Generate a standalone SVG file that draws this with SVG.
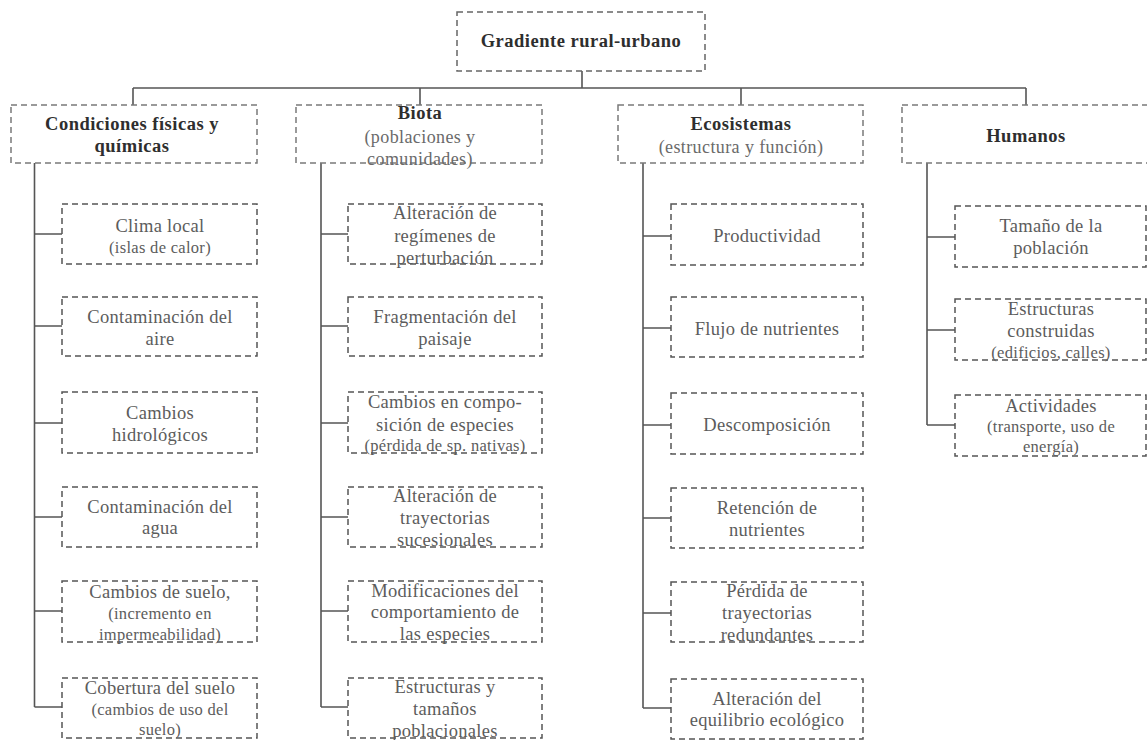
<svg xmlns="http://www.w3.org/2000/svg" width="1147" height="740" viewBox="0 0 1147 740">
<style>
  .bx { fill: none; stroke-width: 1.5; stroke-dasharray: 6 4; }
  .b0 { stroke: #666; }
  .b1 { stroke: #7a7a7a; }
  .b2 { stroke: #555; }
  .cn { fill: none; stroke: #555; stroke-width: 1.6; }
  text { font-family: "Liberation Serif", "Times New Roman", serif; text-anchor: middle; }
  .h { font-size: 18.5px; font-weight: bold; fill: #2e2e2e; letter-spacing: 0.5px; }
  .hs { font-size: 18px; fill: #6a6a6a; letter-spacing: 0.4px; }
  .t { font-size: 18.5px; fill: #5c5c5c; letter-spacing: 0.3px; }
  .p { font-size: 16.5px; fill: #5c5c5c; letter-spacing: 0.3px; }
</style>
<rect width="1147" height="740" fill="#fff"/>

<g id="connectors">
  <path class="cn" d="M582 71 V88 M133 88 H1026 M133 88 V105 M420 88 V105 M741 88 V105 M1026 88 V105"/>
  <path class="cn" d="M34.5 163 V707 M34.5 234 H62 M34.5 326 H62 M34.5 423 H62 M34.5 517 H62 M34.5 611 H62 M34.5 707 H62"/>
  <path class="cn" d="M321 163 V707 M321 234 H348 M321 326 H348 M321 423 H348 M321 517 H348 M321 611 H348 M321 707 H348"/>
  <path class="cn" d="M643 163 V708 M643 236 H671 M643 328 H671 M643 425 H671 M643 518 H671 M643 613 H671 M643 708 H671"/>
  <path class="cn" d="M927 163 V425 M927 237 H955 M927 330 H955 M927 425 H955"/>
</g>

<g id="n-root">
  <rect class="bx b0" x="457" y="12" width="248" height="59"/>
  <text class="h" x="581" y="47">Gradiente rural-urbano</text>
</g>

<g id="n-fisicas">
  <rect class="bx b1" x="11" y="105" width="246" height="58"/>
  <text class="h" x="132" y="130">Condiciones físicas y</text>
  <text class="h" x="132" y="152">químicas</text>
</g>
<g id="n-biota">
  <rect class="bx b1" x="296" y="105" width="246" height="58"/>
  <text class="h" x="420" y="119">Biota</text>
  <text class="hs" x="420" y="143">(poblaciones y</text>
  <text class="hs" x="420" y="165">comunidades)</text>
</g>
<g id="n-ecosistemas">
  <rect class="bx b1" x="618" y="105" width="245" height="58"/>
  <text class="h" x="741" y="130">Ecosistemas</text>
  <text class="hs" x="741" y="153">(estructura y función)</text>
</g>
<g id="n-humanos">
  <rect class="bx b1" x="902" y="105" width="246" height="58"/>
  <text class="h" x="1026" y="142">Humanos</text>
</g>

<!-- column 1 -->
<g id="n-clima">
  <rect class="bx b2" x="62" y="204" width="195" height="60"/>
  <text class="t" x="160" y="232">Clima local</text>
  <text class="p" x="160" y="253">(islas de calor)</text>
</g>
<g id="n-aire">
  <rect class="bx b2" x="62" y="297" width="195" height="59"/>
  <text class="t" x="160" y="323">Contaminación del</text>
  <text class="t" x="160" y="345">aire</text>
</g>
<g id="n-hidro">
  <rect class="bx b2" x="62" y="392" width="195" height="61"/>
  <text class="t" x="160" y="419">Cambios</text>
  <text class="t" x="160" y="441">hidrológicos</text>
</g>
<g id="n-agua">
  <rect class="bx b2" x="62" y="487" width="195" height="60"/>
  <text class="t" x="160" y="513">Contaminación del</text>
  <text class="t" x="160" y="534">agua</text>
</g>
<g id="n-suelo">
  <rect class="bx b2" x="62" y="581" width="195" height="61"/>
  <text class="t" x="160" y="598">Cambios de suelo,</text>
  <text class="p" x="160" y="619">(incremento en</text>
  <text class="p" x="160" y="640">impermeabilidad)</text>
</g>
<g id="n-cobertura">
  <rect class="bx b2" x="62" y="678" width="195" height="60"/>
  <text class="t" x="160" y="694">Cobertura del suelo</text>
  <text class="p" x="160" y="715">(cambios de uso del</text>
  <text class="p" x="160" y="735">suelo)</text>
</g>

<!-- column 2 -->
<g id="n-perturbacion">
  <rect class="bx b2" x="348" y="204" width="194" height="60"/>
  <text class="t" x="445" y="219">Alteración de</text>
  <text class="t" x="445" y="242">regímenes de</text>
  <text class="t" x="445" y="264">perturbación</text>
</g>
<g id="n-fragmentacion">
  <rect class="bx b2" x="348" y="297" width="194" height="59"/>
  <text class="t" x="445" y="323">Fragmentación del</text>
  <text class="t" x="445" y="345">paisaje</text>
</g>
<g id="n-composicion">
  <rect class="bx b2" x="348" y="392" width="194" height="61"/>
  <text class="t" x="445" y="408">Cambios en compo-</text>
  <text class="t" x="445" y="431">sición de especies</text>
  <text class="p" x="445" y="451">(pérdida de sp. nativas)</text>
</g>
<g id="n-sucesion">
  <rect class="bx b2" x="348" y="487" width="194" height="60"/>
  <text class="t" x="445" y="502">Alteración de</text>
  <text class="t" x="445" y="524">trayectorias</text>
  <text class="t" x="445" y="546">sucesionales</text>
</g>
<g id="n-comportamiento">
  <rect class="bx b2" x="348" y="581" width="194" height="61"/>
  <text class="t" x="445" y="597">Modificaciones del</text>
  <text class="t" x="445" y="618">comportamiento de</text>
  <text class="t" x="445" y="640">las especies</text>
</g>
<g id="n-poblacionales">
  <rect class="bx b2" x="348" y="678" width="194" height="60"/>
  <text class="t" x="445" y="693">Estructuras y</text>
  <text class="t" x="445" y="715">tamaños</text>
  <text class="t" x="445" y="737">poblacionales</text>
</g>

<!-- column 3 -->
<g id="n-productividad">
  <rect class="bx b2" x="671" y="204" width="192" height="61"/>
  <text class="t" x="767" y="242">Productividad</text>
</g>
<g id="n-flujo">
  <rect class="bx b2" x="671" y="297" width="192" height="60"/>
  <text class="t" x="767" y="335">Flujo de nutrientes</text>
</g>
<g id="n-descomposicion">
  <rect class="bx b2" x="671" y="393" width="192" height="61"/>
  <text class="t" x="767" y="431">Descomposición</text>
</g>
<g id="n-retencion">
  <rect class="bx b2" x="671" y="488" width="192" height="60"/>
  <text class="t" x="767" y="514">Retención de</text>
  <text class="t" x="767" y="536">nutrientes</text>
</g>
<g id="n-redundantes">
  <rect class="bx b2" x="671" y="582" width="192" height="60"/>
  <text class="t" x="767" y="597">Pérdida de</text>
  <text class="t" x="767" y="619">trayectorias</text>
  <text class="t" x="767" y="641">redundantes</text>
</g>
<g id="n-equilibrio">
  <rect class="bx b2" x="671" y="679" width="192" height="60"/>
  <text class="t" x="767" y="705">Alteración del</text>
  <text class="t" x="767" y="726">equilibrio ecológico</text>
</g>

<!-- column 4 -->
<g id="n-tamano">
  <rect class="bx b2" x="955" y="206" width="191" height="61"/>
  <text class="t" x="1051" y="232">Tamaño de la</text>
  <text class="t" x="1051" y="254">población</text>
</g>
<g id="n-construidas">
  <rect class="bx b2" x="955" y="299" width="191" height="61"/>
  <text class="t" x="1051" y="315">Estructuras</text>
  <text class="t" x="1051" y="337">construidas</text>
  <text class="p" x="1051" y="358">(edificios, calles)</text>
</g>
<g id="n-actividades">
  <rect class="bx b2" x="955" y="395" width="191" height="61"/>
  <text class="t" x="1051" y="412">Actividades</text>
  <text class="p" x="1051" y="432">(transporte, uso de</text>
  <text class="p" x="1051" y="452">energía)</text>
</g>
</svg>
